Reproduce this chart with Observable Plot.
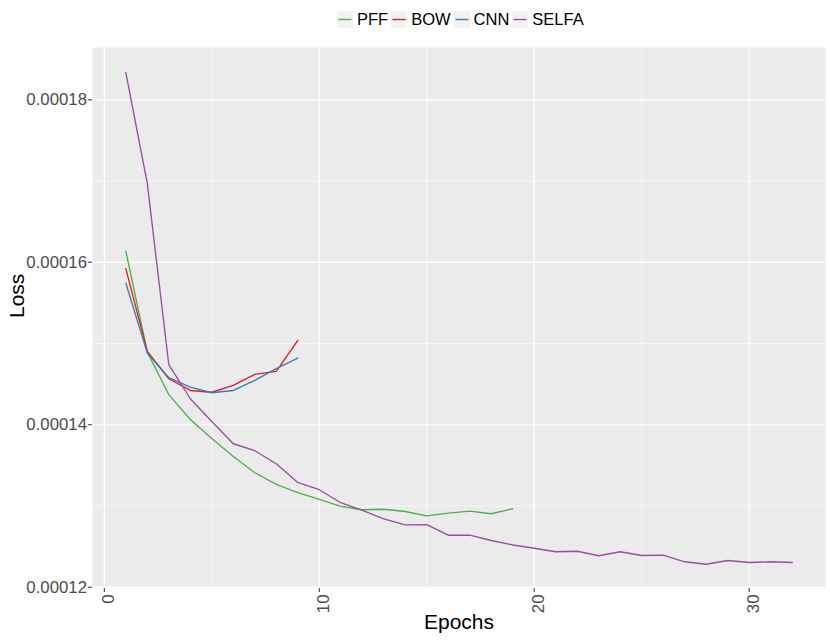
<!DOCTYPE html>
<html><head><meta charset="utf-8">
<script src="https://cdn.jsdelivr.net/npm/d3@7"></script>
<script src="https://cdn.jsdelivr.net/npm/@observablehq/plot@0.6"></script>
<style>
body{margin:0;background:#fff;font-family:"Liberation Sans",Arial,sans-serif;}
#wrap{position:relative;width:830px;height:642px;}
#legend{position:absolute;left:337px;top:10px;height:18px;display:flex;align-items:center;font-size:16.5px;color:#000;}
.key{width:16px;height:17px;display:block;}
.lab{margin-left:4px;margin-right:3px;}
#chart{position:absolute;left:0;top:38px;}
</style></head>
<body><div id="wrap"><div id="legend"></div><div id="chart"></div></div>
<script>
const seriesNames = ["PFF","BOW","CNN","SELFA"];
const seriesColors = ["#4DAF4A","#E41A1C","#377EB8","#984EA3"];
const pff = [0.00016138,0.00014894,0.0001437,0.00014065,0.0001383,0.0001361,0.00013409,0.00013265,0.00013163,0.0001308,0.00012994,0.00012953,0.0001296,0.00012932,0.00012879,0.00012911,0.00012936,0.00012904,0.00012966];
const bow = [0.00015921,0.00014903,0.00014566,0.00014422,0.000144,0.00014484,0.0001462,0.00014656,0.00015038];
const cnn = [0.00015744,0.00014882,0.00014579,0.00014463,0.00014394,0.00014422,0.00014546,0.0001469,0.0001482];
const selfa = [0.00018335,0.0001697,0.00014739,0.0001432,0.0001404,0.00013766,0.0001368,0.0001352,0.0001329,0.000132,0.0001304,0.00012945,0.0001284,0.00012768,0.0001277,0.0001264,0.0001264,0.00012575,0.0001252,0.0001248,0.00012436,0.00012443,0.00012387,0.00012436,0.0001239,0.00012394,0.00012313,0.00012283,0.00012329,0.00012304,0.00012313,0.00012304];
const xTicks = [0,10,20,30];
const xMinor = [5,15,25];
const yTicks = [0.00012,0.00014,0.00016,0.00018];
const yMinor = [0.00013,0.00015,0.00017];

const seriesValues = [pff,bow,cnn,selfa];
const data = seriesValues.flatMap((vals,i)=>vals.map((v,j)=>({series:seriesNames[i],epoch:j+1,loss:v})));

const legend = d3.select("#legend");
seriesNames.forEach((n,i)=>{
  const k = legend.append("svg").attr("class","key").attr("width",16).attr("height",17);
  k.append("rect").attr("width",16).attr("height",17).attr("fill","#F2F2F2");
  k.append("line").attr("x1",1.5).attr("x2",14.5).attr("y1",8.5).attr("y2",8.5)
    .attr("stroke",seriesColors[i]).attr("stroke-width",1.4);
  legend.append("div").attr("class","lab").text(n);
});

const white={stroke:"#fff",strokeOpacity:1};
const chart = Plot.plot({
  width:830,height:604,marginTop:9,marginLeft:92,marginRight:5,marginBottom:54,
  x:{domain:[-0.55,33.55]},
  y:{domain:[0.00011984,0.00018644]},
  color:{domain:seriesNames,range:seriesColors},
  style:{fontFamily:'"Liberation Sans",Arial,sans-serif',background:"transparent",overflow:"visible"},
  marks:[
    Plot.frame({fill:"#EBEBEB",stroke:null}),
    Plot.gridY(yMinor,{...white,strokeWidth:0.6}),
    Plot.gridX(xMinor,{...white,strokeWidth:0.6}),
    Plot.gridY(yTicks,{...white,strokeWidth:1.2}),
    Plot.gridX(xTicks,{...white,strokeWidth:1.2}),
    Plot.lineY(data,{x:"epoch",y:"loss",stroke:"series",strokeWidth:1.35}),
    Plot.axisY(yTicks,{tickFormat:d=>d.toFixed(5),fontSize:16.8,tickSize:4,tickPadding:1.5,fill:"#4d4d4d",stroke:"#333",label:null}),
    Plot.axisX(xTicks,{tickSize:4,tickFormat:()=>"",stroke:"#333",label:null}),
    Plot.axisX(xTicks,{tickRotate:-90,tickSize:0,tickPadding:6,fontSize:16.8,dx:4,fill:"#4d4d4d",label:null}),
    Plot.text(["Epochs"],{frameAnchor:"bottom",dy:40,fontSize:21,fill:"#000"}),
    Plot.text(["Loss"],{frameAnchor:"left",dx:-75,rotate:-90,fontSize:21,fill:"#000"})
  ]
});
document.getElementById("chart").appendChild(chart);
</script></body></html>
